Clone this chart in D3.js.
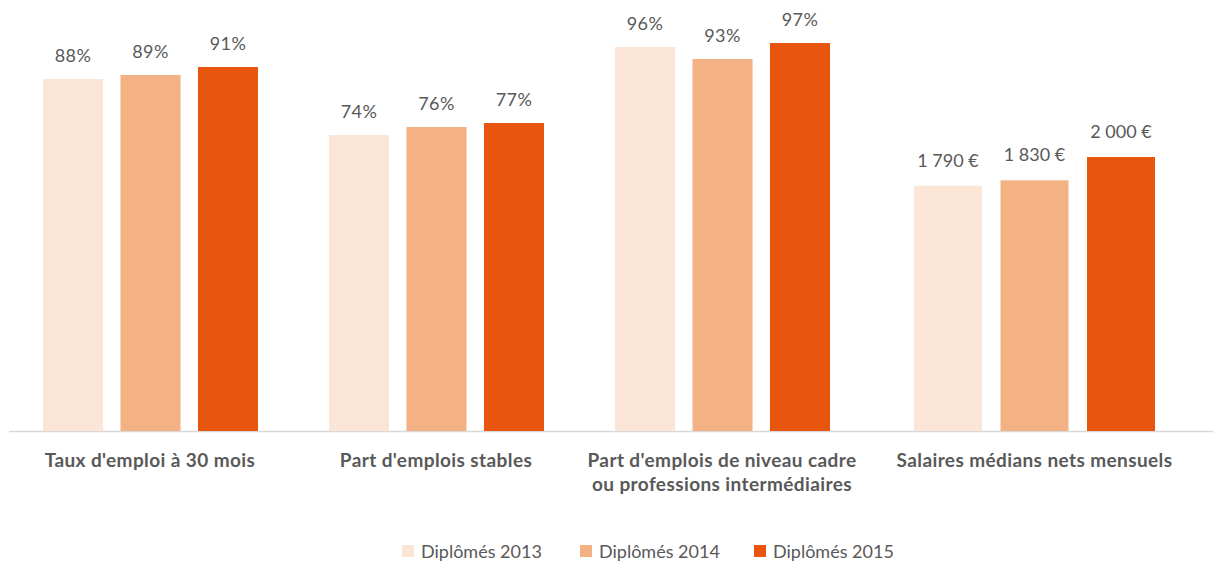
<!DOCTYPE html>
<html lang="fr">
<head>
<meta charset="utf-8">
<script src="https://d3js.org/d3.v7.min.js"></script>
<style>
  body { margin: 0; background: #fff; }
  text { font-family: Lato, "Open Sans", sans-serif; fill: #595959; }
</style>
</head>
<body>
<div id="chart"></div>
<script>
// data
var years = ["Diplômés 2013", "Diplômés 2014", "Diplômés 2015"];
var pctCategories = [
  ["Taux d'emploi à 30 mois"],
  ["Part d'emplois stables"],
  ["Part d'emplois de niveau cadre", "ou professions intermédiaires"]
];
var pctValues = [
  [88, 89, 91],
  [74, 76, 77],
  [96, 93, 97]
];
var salCategory = ["Salaires médians nets mensuels"];
var salValues = [1790, 1830, 2000];
var colors = ["#FBE5D6", "#F4B183", "#E8550E"];

var width = 1215, height = 563, baseY = 431;

var svg = d3.select("#chart").append("svg")
  .attr("width", width).attr("height", height);

// scales
var yPct = d3.scaleLinear().domain([0, 100]).range([baseY, 31]);
var ySal = d3.scaleLinear().domain([0, 2920]).range([baseY, 31]);

var x0 = d3.scaleBand().domain(d3.range(pctCategories.length)).range([7, 865]);
var x1 = d3.scaleBand().domain(years).range([36, 251]).paddingInner(0.225);
var xSal = d3.scaleBand().domain(years).range([914, 1155]).paddingInner(0.214);

var fmtSal = function (v) { return d3.format(",")(v).replace(",", " ") + " €"; };

// axis line
svg.append("line")
  .attr("x1", 9).attr("x2", 1213)
  .attr("y1", baseY + 0.5).attr("y2", baseY + 0.5)
  .attr("stroke", "#d9d9d9").attr("stroke-width", 1.5);

// percentage groups
pctCategories.forEach(function (cat, i) {
  var g = svg.append("g").attr("transform", "translate(" + x0(i) + ",0)");
  g.selectAll("rect").data(pctValues[i]).join("rect")
    .attr("x", function (d, j) { return x1(years[j]); })
    .attr("y", function (d) { return yPct(d); })
    .attr("width", x1.bandwidth())
    .attr("height", function (d) { return baseY - yPct(d); })
    .attr("fill", function (d, j) { return colors[j]; });
  g.selectAll("text.val").data(pctValues[i]).join("text")
    .attr("class", "val")
    .attr("x", function (d, j) { return x1(years[j]) + x1.bandwidth() / 2; })
    .attr("y", function (d) { return yPct(d) - 17; })
    .attr("text-anchor", "middle")
    .style("font-size", "18px").style("letter-spacing", "0.4px")
    .text(function (d) { return d + "%"; });
  var lbl = g.append("text")
    .attr("text-anchor", "middle")
    .style("font-size", "19px").style("font-weight", "bold").style("letter-spacing", "0.4px");
  cat.forEach(function (line, k) {
    lbl.append("tspan").attr("x", x0.bandwidth() / 2).attr("y", 467 + k * 24).text(line);
  });
});

// salary group
svg.selectAll("rect.sal").data(salValues).join("rect")
  .attr("class", "sal")
  .attr("x", function (d, j) { return xSal(years[j]); })
  .attr("y", function (d) { return ySal(d); })
  .attr("width", xSal.bandwidth())
  .attr("height", function (d) { return baseY - ySal(d); })
  .attr("fill", function (d, j) { return colors[j]; });
svg.selectAll("text.salval").data(salValues).join("text")
  .attr("class", "salval")
  .attr("x", function (d, j) { return xSal(years[j]) + xSal.bandwidth() / 2; })
  .attr("y", function (d) { return ySal(d) - 19; })
  .attr("text-anchor", "middle")
  .style("font-size", "18px")
  .text(fmtSal);
svg.append("text")
  .attr("x", (914 + 1155) / 2).attr("y", 467)
  .attr("text-anchor", "middle")
  .style("font-size", "19px").style("font-weight", "bold").style("letter-spacing", "0.4px")
  .text(salCategory[0]);

// legend
var legendX = [402, 580, 754];
var leg = svg.selectAll("g.leg").data(years).join("g")
  .attr("class", "leg")
  .attr("transform", function (d, i) { return "translate(" + legendX[i] + ",545)"; });
leg.append("rect").attr("width", 12).attr("height", 12)
  .attr("fill", function (d, i) { return colors[i]; });
leg.append("text").attr("x", 19).attr("y", 12.5)
  .style("font-size", "18px")
  .text(function (d) { return d; });
</script>
</body>
</html>
